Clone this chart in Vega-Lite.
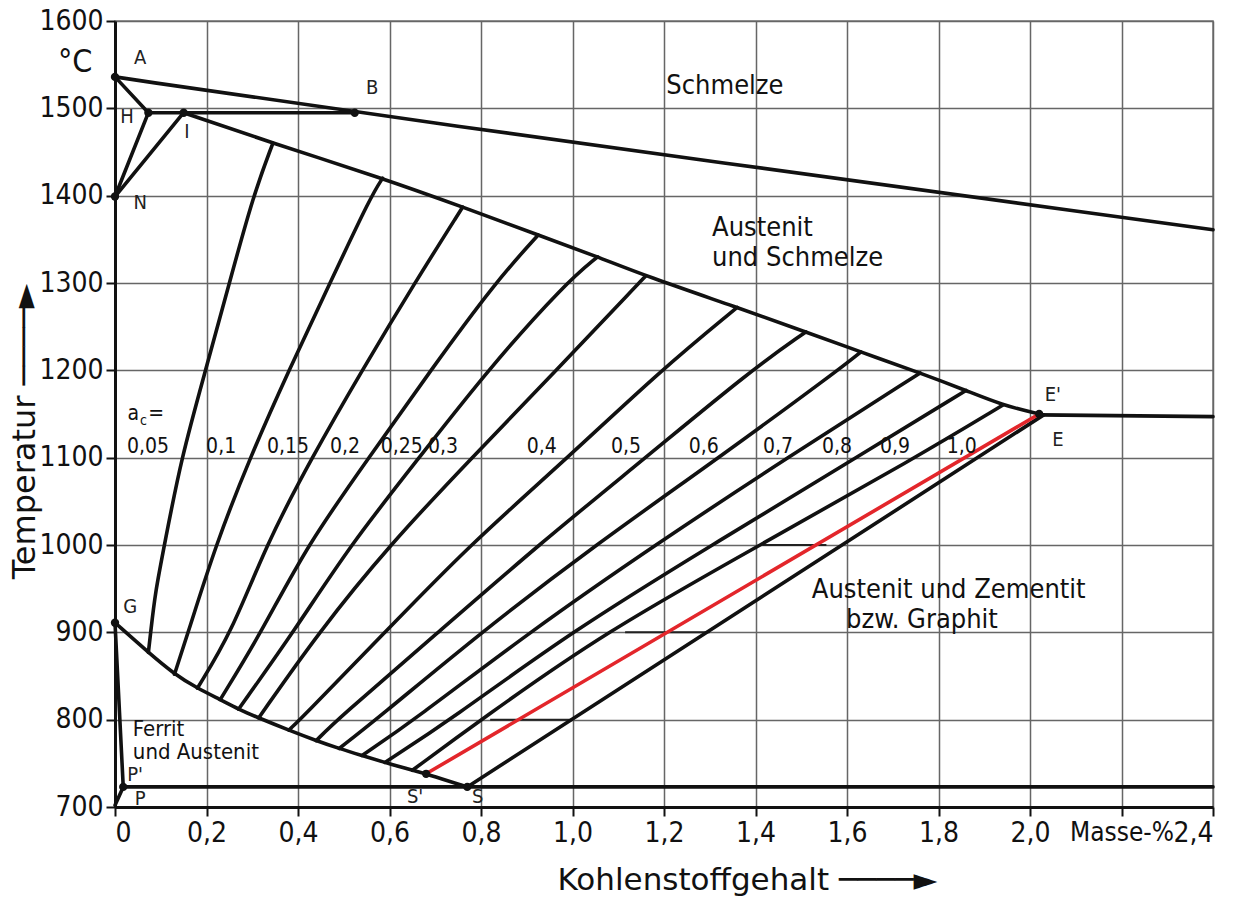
{
  "$schema": "https://vega.github.io/schema/vega-lite/v6.json",
  "width": 1098,
  "height": 786,
  "autosize": {"type": "none"},
  "padding": {"left": 115, "top": 21, "right": 21, "bottom": 92},
  "background": "white",
  "datasets": {
    "lines": [
      {"id": "Liquidus", "kind": "Linie", "c": 0, "T": 1536},
      {"id": "Liquidus", "kind": "Linie", "c": 0.524, "T": 1495},
      {"id": "Liquidus", "kind": "Linie", "c": 2.4, "T": 1361},
      {"id": "HB", "kind": "Linie", "c": 0.073, "T": 1495},
      {"id": "HB", "kind": "Linie", "c": 0.524, "T": 1495},
      {"id": "AH", "kind": "Linie", "c": 0, "T": 1536},
      {"id": "AH", "kind": "Linie", "c": 0.073, "T": 1495},
      {"id": "NH", "kind": "Linie", "c": 0, "T": 1399},
      {"id": "NH", "kind": "Linie", "c": 0.073, "T": 1495},
      {"id": "NI", "kind": "Linie", "c": 0, "T": 1399},
      {"id": "NI", "kind": "Linie", "c": 0.15, "T": 1495},
      {"id": "Solidus", "kind": "Linie", "c": 0.15, "T": 1495},
      {"id": "Solidus", "kind": "Linie", "c": 0.345, "T": 1460},
      {"id": "Solidus", "kind": "Linie", "c": 0.585, "T": 1420},
      {"id": "Solidus", "kind": "Linie", "c": 0.76, "T": 1387},
      {"id": "Solidus", "kind": "Linie", "c": 0.925, "T": 1355},
      {"id": "Solidus", "kind": "Linie", "c": 1.055, "T": 1330},
      {"id": "Solidus", "kind": "Linie", "c": 1.16, "T": 1308},
      {"id": "Solidus", "kind": "Linie", "c": 1.36, "T": 1272},
      {"id": "Solidus", "kind": "Linie", "c": 1.51, "T": 1244},
      {"id": "Solidus", "kind": "Linie", "c": 1.63, "T": 1221},
      {"id": "Solidus", "kind": "Linie", "c": 1.76, "T": 1197},
      {"id": "Solidus", "kind": "Linie", "c": 1.86, "T": 1177},
      {"id": "Solidus", "kind": "Linie", "c": 1.94, "T": 1160},
      {"id": "Solidus", "kind": "Linie", "c": 2.02, "T": 1150},
      {"id": "EC", "kind": "Linie", "c": 2.02, "T": 1149},
      {"id": "EC", "kind": "Linie", "c": 2.4, "T": 1147},
      {"id": "SE", "kind": "Linie", "c": 0.77, "T": 723},
      {"id": "SE", "kind": "Linie", "c": 2.03, "T": 1149},
      {"id": "SE'", "kind": "Graphit", "c": 0.68, "T": 738},
      {"id": "SE'", "kind": "Graphit", "c": 2.02, "T": 1150},
      {"id": "GP", "kind": "Linie", "c": 0, "T": 911},
      {"id": "GP", "kind": "Linie", "c": 0.018, "T": 723},
      {"id": "PQ", "kind": "Linie", "c": 0, "T": 702},
      {"id": "PQ", "kind": "Linie", "c": 0.018, "T": 723},
      {"id": "PSK", "kind": "Linie", "c": 0.018, "T": 723},
      {"id": "PSK", "kind": "Linie", "c": 2.4, "T": 723},
      {"id": "GS", "kind": "Linie", "c": 0, "T": 911},
      {"id": "GS", "kind": "Linie", "c": 0.073, "T": 877},
      {"id": "GS", "kind": "Linie", "c": 0.13, "T": 852},
      {"id": "GS", "kind": "Linie", "c": 0.18, "T": 836},
      {"id": "GS", "kind": "Linie", "c": 0.23, "T": 823},
      {"id": "GS", "kind": "Linie", "c": 0.27, "T": 812},
      {"id": "GS", "kind": "Linie", "c": 0.314, "T": 802},
      {"id": "GS", "kind": "Linie", "c": 0.38, "T": 788},
      {"id": "GS", "kind": "Linie", "c": 0.44, "T": 776},
      {"id": "GS", "kind": "Linie", "c": 0.49, "T": 767},
      {"id": "GS", "kind": "Linie", "c": 0.54, "T": 759},
      {"id": "GS", "kind": "Linie", "c": 0.59, "T": 751},
      {"id": "GS", "kind": "Linie", "c": 0.65, "T": 742},
      {"id": "GS", "kind": "Linie", "c": 0.68, "T": 738},
      {"id": "GS", "kind": "Linie", "c": 0.77, "T": 723},
      {"id": "a0.05", "kind": "Linie", "c": 0.073, "T": 877},
      {"id": "a0.05", "kind": "Linie", "c": 0.078, "T": 900},
      {"id": "a0.05", "kind": "Linie", "c": 0.088, "T": 946},
      {"id": "a0.05", "kind": "Linie", "c": 0.108, "T": 1000},
      {"id": "a0.05", "kind": "Linie", "c": 0.145, "T": 1100},
      {"id": "a0.05", "kind": "Linie", "c": 0.198, "T": 1200},
      {"id": "a0.05", "kind": "Linie", "c": 0.25, "T": 1300},
      {"id": "a0.05", "kind": "Linie", "c": 0.302, "T": 1400},
      {"id": "a0.05", "kind": "Linie", "c": 0.345, "T": 1460},
      {"id": "a0.1", "kind": "Linie", "c": 0.13, "T": 852},
      {"id": "a0.1", "kind": "Linie", "c": 0.16, "T": 900},
      {"id": "a0.1", "kind": "Linie", "c": 0.22, "T": 1000},
      {"id": "a0.1", "kind": "Linie", "c": 0.295, "T": 1100},
      {"id": "a0.1", "kind": "Linie", "c": 0.38, "T": 1200},
      {"id": "a0.1", "kind": "Linie", "c": 0.47, "T": 1300},
      {"id": "a0.1", "kind": "Linie", "c": 0.56, "T": 1400},
      {"id": "a0.1", "kind": "Linie", "c": 0.585, "T": 1420},
      {"id": "a0.15", "kind": "Linie", "c": 0.18, "T": 836},
      {"id": "a0.15", "kind": "Linie", "c": 0.255, "T": 900},
      {"id": "a0.15", "kind": "Linie", "c": 0.33, "T": 1000},
      {"id": "a0.15", "kind": "Linie", "c": 0.43, "T": 1100},
      {"id": "a0.15", "kind": "Linie", "c": 0.54, "T": 1200},
      {"id": "a0.15", "kind": "Linie", "c": 0.655, "T": 1300},
      {"id": "a0.15", "kind": "Linie", "c": 0.76, "T": 1387},
      {"id": "a0.2", "kind": "Linie", "c": 0.23, "T": 823},
      {"id": "a0.2", "kind": "Linie", "c": 0.32, "T": 900},
      {"id": "a0.2", "kind": "Linie", "c": 0.42, "T": 1000},
      {"id": "a0.2", "kind": "Linie", "c": 0.555, "T": 1100},
      {"id": "a0.2", "kind": "Linie", "c": 0.69, "T": 1200},
      {"id": "a0.2", "kind": "Linie", "c": 0.83, "T": 1300},
      {"id": "a0.2", "kind": "Linie", "c": 0.925, "T": 1355},
      {"id": "a0.25", "kind": "Linie", "c": 0.27, "T": 812},
      {"id": "a0.25", "kind": "Linie", "c": 0.39, "T": 900},
      {"id": "a0.25", "kind": "Linie", "c": 0.514, "T": 1000},
      {"id": "a0.25", "kind": "Linie", "c": 0.665, "T": 1100},
      {"id": "a0.25", "kind": "Linie", "c": 0.814, "T": 1200},
      {"id": "a0.25", "kind": "Linie", "c": 0.985, "T": 1300},
      {"id": "a0.25", "kind": "Linie", "c": 1.055, "T": 1330},
      {"id": "a0.3", "kind": "Linie", "c": 0.314, "T": 802},
      {"id": "a0.3", "kind": "Linie", "c": 0.445, "T": 900},
      {"id": "a0.3", "kind": "Linie", "c": 0.6, "T": 1000},
      {"id": "a0.3", "kind": "Linie", "c": 0.78, "T": 1100},
      {"id": "a0.3", "kind": "Linie", "c": 0.965, "T": 1200},
      {"id": "a0.3", "kind": "Linie", "c": 1.145, "T": 1300},
      {"id": "a0.3", "kind": "Linie", "c": 1.16, "T": 1308},
      {"id": "a0.4", "kind": "Linie", "c": 0.38, "T": 788},
      {"id": "a0.4", "kind": "Linie", "c": 0.405, "T": 800},
      {"id": "a0.4", "kind": "Linie", "c": 0.59, "T": 900},
      {"id": "a0.4", "kind": "Linie", "c": 0.775, "T": 1000},
      {"id": "a0.4", "kind": "Linie", "c": 0.99, "T": 1100},
      {"id": "a0.4", "kind": "Linie", "c": 1.193, "T": 1200},
      {"id": "a0.4", "kind": "Linie", "c": 1.36, "T": 1272},
      {"id": "a0.5", "kind": "Linie", "c": 0.44, "T": 776},
      {"id": "a0.5", "kind": "Linie", "c": 0.485, "T": 800},
      {"id": "a0.5", "kind": "Linie", "c": 0.707, "T": 900},
      {"id": "a0.5", "kind": "Linie", "c": 0.925, "T": 1000},
      {"id": "a0.5", "kind": "Linie", "c": 1.16, "T": 1100},
      {"id": "a0.5", "kind": "Linie", "c": 1.39, "T": 1200},
      {"id": "a0.5", "kind": "Linie", "c": 1.51, "T": 1244},
      {"id": "a0.6", "kind": "Linie", "c": 0.49, "T": 767},
      {"id": "a0.6", "kind": "Linie", "c": 0.571, "T": 800},
      {"id": "a0.6", "kind": "Linie", "c": 0.8, "T": 900},
      {"id": "a0.6", "kind": "Linie", "c": 1.05, "T": 1000},
      {"id": "a0.6", "kind": "Linie", "c": 1.32, "T": 1100},
      {"id": "a0.6", "kind": "Linie", "c": 1.58, "T": 1200},
      {"id": "a0.6", "kind": "Linie", "c": 1.63, "T": 1221},
      {"id": "a0.7", "kind": "Linie", "c": 0.54, "T": 759},
      {"id": "a0.7", "kind": "Linie", "c": 0.655, "T": 800},
      {"id": "a0.7", "kind": "Linie", "c": 0.905, "T": 900},
      {"id": "a0.7", "kind": "Linie", "c": 1.18, "T": 1000},
      {"id": "a0.7", "kind": "Linie", "c": 1.47, "T": 1100},
      {"id": "a0.7", "kind": "Linie", "c": 1.76, "T": 1197},
      {"id": "a0.8", "kind": "Linie", "c": 0.59, "T": 751},
      {"id": "a0.8", "kind": "Linie", "c": 0.734, "T": 800},
      {"id": "a0.8", "kind": "Linie", "c": 0.995, "T": 900},
      {"id": "a0.8", "kind": "Linie", "c": 1.305, "T": 1000},
      {"id": "a0.8", "kind": "Linie", "c": 1.62, "T": 1100},
      {"id": "a0.8", "kind": "Linie", "c": 1.86, "T": 1177},
      {"id": "a0.9", "kind": "Linie", "c": 0.65, "T": 742},
      {"id": "a0.9", "kind": "Linie", "c": 0.8, "T": 800},
      {"id": "a0.9", "kind": "Linie", "c": 1.07, "T": 900},
      {"id": "a0.9", "kind": "Linie", "c": 1.41, "T": 1000},
      {"id": "a0.9", "kind": "Linie", "c": 1.75, "T": 1100},
      {"id": "a0.9", "kind": "Linie", "c": 1.94, "T": 1160}
    ],
    "points": [
      {"name": "A", "c": 0, "T": 1536},
      {"name": "H", "c": 0.073, "T": 1495},
      {"name": "I", "c": 0.15, "T": 1495},
      {"name": "B", "c": 0.524, "T": 1495},
      {"name": "N", "c": 0, "T": 1399},
      {"name": "G", "c": 0, "T": 911},
      {"name": "E'", "c": 2.02, "T": 1150},
      {"name": "S'", "c": 0.68, "T": 738},
      {"name": "S", "c": 0.77, "T": 723},
      {"name": "P", "c": 0.018, "T": 723}
    ],
    "letters": [
      {"text": "A", "c": 0.055, "T": 1558},
      {"text": "B", "c": 0.562, "T": 1523},
      {"text": "H", "c": 0.026, "T": 1490},
      {"text": "I", "c": 0.157, "T": 1473},
      {"text": "N", "c": 0.055, "T": 1392},
      {"text": "G", "c": 0.033, "T": 929},
      {"text": "E'", "c": 2.05, "T": 1172},
      {"text": "E", "c": 2.061, "T": 1120},
      {"text": "S'", "c": 0.656, "T": 711},
      {"text": "S", "c": 0.793, "T": 711},
      {"text": "P'", "c": 0.044, "T": 737},
      {"text": "P", "c": 0.055, "T": 709}
    ],
    "regions": [
      {"text": "Schmelze", "c": 1.205, "T": 1526},
      {"text": "Austenit", "c": 1.305, "T": 1363},
      {"text": "und Schmelze", "c": 1.305, "T": 1329},
      {"text": "Austenit und Zementit", "c": 1.523, "T": 948},
      {"text": "bzw. Graphit", "c": 1.598, "T": 914}
    ],
    "small": [
      {"text": "Ferrit", "c": 0.039, "T": 789},
      {"text": "und Austenit", "c": 0.039, "T": 763}
    ],
    "activity": [
      {"text": "0,05", "c": 0.072, "T": 1112},
      {"text": "0,1", "c": 0.232, "T": 1112},
      {"text": "0,15", "c": 0.378, "T": 1112},
      {"text": "0,2", "c": 0.503, "T": 1112},
      {"text": "0,25", "c": 0.627, "T": 1112},
      {"text": "0,3", "c": 0.717, "T": 1112},
      {"text": "0,4", "c": 0.933, "T": 1112},
      {"text": "0,5", "c": 1.117, "T": 1112},
      {"text": "0,6", "c": 1.287, "T": 1112},
      {"text": "0,7", "c": 1.449, "T": 1112},
      {"text": "0,8", "c": 1.578, "T": 1112},
      {"text": "0,9", "c": 1.705, "T": 1112},
      {"text": "1,0", "c": 1.851, "T": 1112},
      {"text": "a", "c": 0.04, "T": 1150},
      {"text": "=", "c": 0.09, "T": 1150}
    ],
    "sub": [
      {"text": "c", "c": 0.062, "T": 1142}
    ],
    "unit": [
      {"text": "°C", "c": -0.087, "T": 1553}
    ],
    "seg": [
      {"c": 0.82, "c2": 1.0, "T": 800},
      {"c": 1.115, "c2": 1.3, "T": 900},
      {"c": 1.415, "c2": 1.555, "T": 1000}
    ]
  },
  "layer": [
    {
      "data": {"name": "seg"},
      "mark": {"type": "rule", "color": "#222", "strokeWidth": 2},
      "encoding": {
        "x": {"field": "c", "type": "quantitative", "scale": {"domain": [0, 2.4], "nice": false, "zero": false},
          "axis": {
            "values": [0, 0.2, 0.4, 0.6, 0.8, 1.0, 1.2, 1.4, 1.6, 1.8, 2.0, 2.2, 2.4],
            "labelExpr": "datum.value == 0 ? '0' : (abs(datum.value - 2.2) < 0.01 ? 'Masse-%\u00a0\u00a0' : replace(format(datum.value, '.1f'), '.', ','))",
            "labelOverlap": false,
            "labelFontSize": {"condition": {"test": "abs(datum.value - 2.2) < 0.01", "value": 26}, "value": 28},
            "title": "Kohlenstoffgehalt  ────►",
            "titleFont": "DejaVu Sans",
            "titleFontSize": 31,
            "titleX": 632, "titleY": 73, "titleBaseline": "middle"
          }},
        "x2": {"field": "c2"},
        "y": {"field": "T", "type": "quantitative", "scale": {"domain": [700, 1600], "nice": false, "zero": false},
          "axis": {
            "values": [700, 800, 900, 1000, 1100, 1200, 1300, 1400, 1500, 1600],
            "format": "d",
            "labelOverlap": false,
            "title": "Temperatur  ────►",
            "titleFont": "DejaVu Sans",
            "titleFontSize": 32,
            "titleAngle": -90, "titleX": -91, "titleY": 410, "titleBaseline": "middle", "titleAlign": "center"
          }}
      }
    },
    {
      "data": {"name": "lines"},
      "mark": {"type": "line", "strokeWidth": 3.6, "strokeCap": "round", "strokeJoin": "round", "interpolate": "basis"},
      "encoding": {
        "x": {"field": "c", "type": "quantitative"},
        "y": {"field": "T", "type": "quantitative"},
        "detail": {"field": "id"},
        "color": {"field": "kind", "type": "nominal", "scale": {"domain": ["Linie", "Graphit"], "range": ["#111111", "#e3262b"]}, "legend": null}
      }
    },
    {
      "data": {"name": "points"},
      "mark": {"type": "circle", "size": 70, "color": "#111", "opacity": 1},
      "encoding": {
        "x": {"field": "c", "type": "quantitative"},
        "y": {"field": "T", "type": "quantitative"}
      }
    },
    {
      "data": {"name": "letters"},
      "mark": {"type": "text", "fontSize": 20, "font": "DejaVu Sans Condensed, Roboto, sans-serif", "color": "#222", "align": "center", "baseline": "middle"},
      "encoding": {
        "x": {"field": "c", "type": "quantitative"},
        "y": {"field": "T", "type": "quantitative"},
        "text": {"field": "text"}
      }
    },
    {
      "data": {"name": "regions"},
      "mark": {"type": "text", "fontSize": 27, "font": "DejaVu Sans Condensed, Roboto, sans-serif", "color": "#111", "align": "left", "baseline": "middle"},
      "encoding": {
        "x": {"field": "c", "type": "quantitative"},
        "y": {"field": "T", "type": "quantitative"},
        "text": {"field": "text"}
      }
    },
    {
      "data": {"name": "small"},
      "mark": {"type": "text", "fontSize": 22, "font": "DejaVu Sans Condensed, Roboto, sans-serif", "color": "#111", "align": "left", "baseline": "middle"},
      "encoding": {
        "x": {"field": "c", "type": "quantitative"},
        "y": {"field": "T", "type": "quantitative"},
        "text": {"field": "text"}
      }
    },
    {
      "data": {"name": "activity"},
      "mark": {"type": "text", "fontSize": 21, "font": "DejaVu Sans Condensed, Roboto, sans-serif", "color": "#111", "align": "center", "baseline": "middle"},
      "encoding": {
        "x": {"field": "c", "type": "quantitative"},
        "y": {"field": "T", "type": "quantitative"},
        "text": {"field": "text"}
      }
    },
    {
      "data": {"name": "sub"},
      "mark": {"type": "text", "fontSize": 14, "font": "DejaVu Sans Condensed, Roboto, sans-serif", "color": "#111", "align": "center", "baseline": "middle"},
      "encoding": {
        "x": {"field": "c", "type": "quantitative"},
        "y": {"field": "T", "type": "quantitative"},
        "text": {"field": "text"}
      }
    },
    {
      "data": {"name": "unit"},
      "mark": {"type": "text", "fontSize": 32, "font": "DejaVu Sans Condensed, Roboto, sans-serif", "color": "#111", "align": "center", "baseline": "middle"},
      "encoding": {
        "x": {"field": "c", "type": "quantitative"},
        "y": {"field": "T", "type": "quantitative"},
        "text": {"field": "text"}
      }
    }
  ],
  "config": {
    "view": {"stroke": "#777", "strokeWidth": 1.5},
    "axis": {
      "grid": true,
      "gridColor": "#666",
      "gridWidth": 1.5,
      "gridOpacity": 1,
      "domainColor": "#111",
      "domainWidth": 3,
      "tickColor": "#111",
      "tickWidth": 2,
      "tickSize": 9,
      "labelFont": "DejaVu Sans Condensed, Roboto, sans-serif",
      "labelFontSize": 28,
      "labelColor": "#111",
      "labelPadding": 3,
      "titleFontWeight": "normal",
      "titleColor": "#111"
    }
  }
}
